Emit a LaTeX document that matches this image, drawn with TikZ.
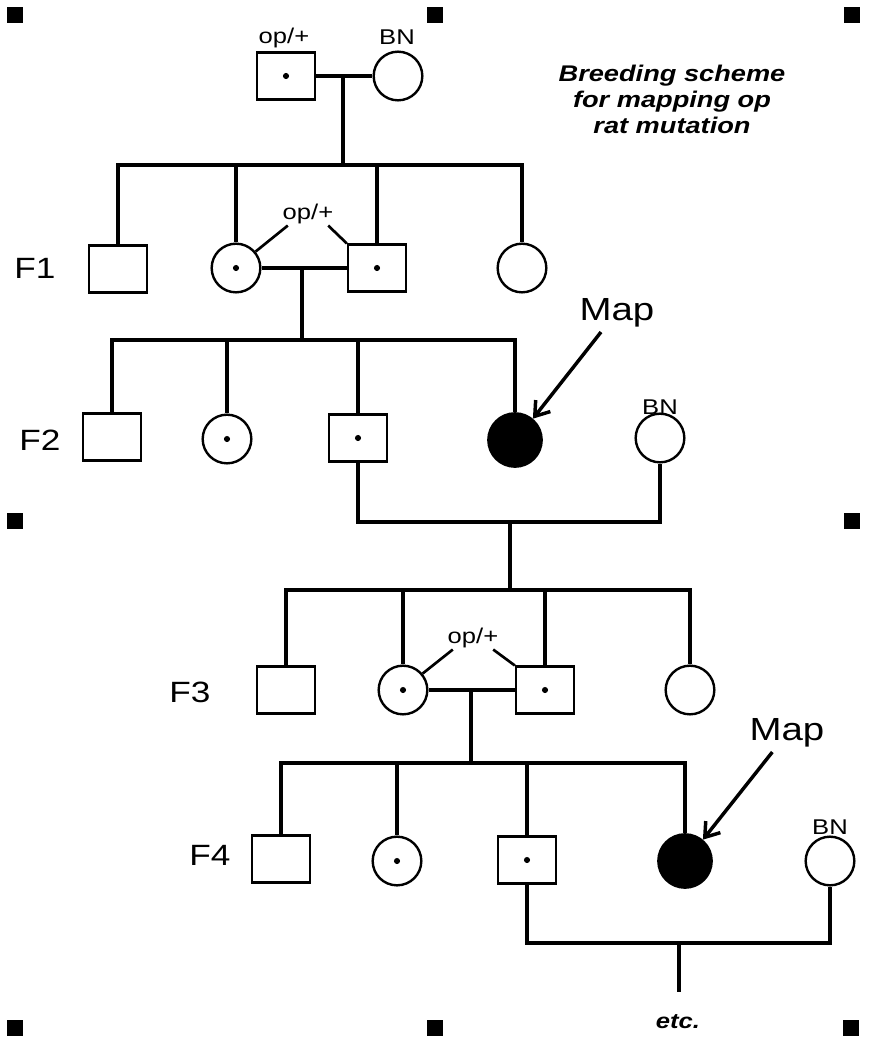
\documentclass[tikz,border=0pt]{standalone}
\usepackage{fontspec}
\newfontfamily\pedfont[FakeStretch=1.2]{Liberation Sans}
\usetikzlibrary{arrows.meta}

\begin{document}
\begin{tikzpicture}[x=0.75pt, y=-0.75pt,
    male/.style={draw, rectangle, line width=1.8pt, minimum width=43.5pt, minimum height=35pt, inner sep=0pt},
    female/.style={draw, circle, line width=1.8pt, minimum size=36.5pt, inner sep=0pt},
    carrier/.style={path picture={\fill (path picture bounding box.center) circle (2.3pt);}},
    affected/.style={fill=black, minimum size=40pt},
    gen/.style={font=\pedfont\fontsize{22}{24}\selectfont},
    geno/.style={font=\pedfont\fontsize{16}{18}\selectfont, inner sep=1pt},
    mapnote/.style={font=\pedfont\fontsize{24}{26}\selectfont},
    handle/.style={fill=black, minimum size=12pt, inner sep=0pt}]
\useasboundingbox (0,0) rectangle (869,1050);

%\draw[help lines] (0,0) grid (869,1050);
\begin{scope}
    % selection handles
    \node[handle] (h1) at (15,15) {};
    \node[handle] (h2) at (435,15) {};
    \node[handle] (h3) at (852,15) {};
    \node[handle] (h4) at (15,521) {};
    \node[handle] (h5) at (852,521) {};
    \node[handle] (h6) at (15,1028) {};
    \node[handle] (h7) at (435,1028) {};
    \node[handle] (h8) at (851,1028) {};

    \node[font=\pedfont\bfseries\itshape\fontsize{17}{19.5}\selectfont, align=center] (title) at (672,99)
        {Breeding scheme\\for mapping op\\rat mutation};

    % parents
    \node[male, carrier] (P) at (286,76) {};
    \node[female] (M) at (398,76) {};
    \node[geno] (gP) at (284,38) {op/+};
    \node[geno] (gM) at (397,37) {BN};

    % F1
    \node[gen] (F1) at (35,268) {F1};
    \node[male] (a1) at (118,269) {};
    \node[female, carrier] (b1) at (236,268) {};
    \node[male, carrier] (c1) at (377,268) {};
    \node[female] (d1) at (522,268) {};
    \node[geno] (g1) at (308,214) {op/+};

    % F2
    \node[gen] (F2) at (40,440) {F2};
    \node[male] (a2) at (112,437) {};
    \node[female, carrier] (b2) at (227,439) {};
    \node[male, carrier] (c2) at (358,438) {};
    \node[female, affected] (d2) at (515,440) {};
    \node[female] (e2) at (660,438) {};
    \node[geno] (g2) at (660,407) {BN};
    \node[mapnote] (map1) at (617,313) {Map};

    % F3
    \node[gen] (F3) at (190,692) {F3};
    \node[male] (a3) at (286,690) {};
    \node[female, carrier] (b3) at (403,690) {};
    \node[male, carrier] (c3) at (545,690) {};
    \node[female] (d3) at (690,690) {};
    \node[geno] (g3) at (473,638) {op/+};

    % F4
    \node[gen] (F4) at (210,855) {F4};
    \node[male] (a4) at (281,859) {};
    \node[female, carrier] (b4) at (397,861) {};
    \node[male, carrier] (c4) at (527,860) {};
    \node[female, affected] (d4) at (685,861) {};
    \node[female] (e4) at (830,861) {};
    \node[geno] (g4) at (830,827) {BN};
    \node[mapnote] (map2) at (787,733) {Map};

    \node[font=\pedfont\bfseries\itshape\fontsize{16}{19}\selectfont] (etc) at (678,1022) {etc.};

    % line junctions
    \coordinate (s0) at (343,165);
    \coordinate (s1) at (302,340);
    \coordinate (s2) at (510,590);
    \coordinate (s3) at (471,763);
    \coordinate (s4) at (679,992);
    \coordinate (k2) at (510,522);
    \coordinate (k4) at (679,943);
\end{scope}

\begin{scope}[line width=2.6pt, >={Straight Barb[length=10pt, width=14pt]}]
    % parents -> F1
    \path [-] (P) edge (M);
    \draw (s0 |- P) -- (s0);
    \draw (a1.north) |- (s0) -| (d1.north);
    \draw (b1) -- (b1 |- s0);
    \draw (c1) -- (c1 |- s0);

    % F1 -> F2
    \path [-] (b1) edge (c1);
    \draw (s1 |- b1) -- (s1);
    \draw (a2.north) |- (s1) -| (d2.north);
    \draw (b2) -- (b2 |- s1);
    \draw (c2) -- (c2 |- s1);

    % F2 x BN -> F3
    \draw (c2.south) |- (k2) -| (e2.south);
    \draw (k2) -- (s2);
    \draw (a3.north) |- (s2) -| (d3.north);
    \draw (b3) -- (b3 |- s2);
    \draw (c3) -- (c3 |- s2);

    % F3 -> F4
    \path [-] (b3) edge (c3);
    \draw (s3 |- b3) -- (s3);
    \draw (a4.north) |- (s3) -| (d4.north);
    \draw (b4) -- (b4 |- s3);
    \draw (c4) -- (c4 |- s3);

    % F4 x BN
    \draw (c4.south) |- (k4) -| (e4.south);
    \draw (k4) -- (s4);

    % genotype pointers
    \draw [line width=2pt] (b1.40) -- ([xshift=5pt]g1.south west);
    \draw [line width=2pt] ([xshift=-5pt]g1.south east) -- (c1.north west);
    \draw [line width=2pt] (b3.40) -- ([xshift=5pt]g3.south west);
    \draw [line width=2pt] ([xshift=-5pt]g3.south east) -- (c3.north west);

    % map arrows
    \draw [->] ([xshift=-12pt]map1.south) -- (d2.50);
    \draw [->] ([xshift=-11pt]map2.south) -- (d4.50);
\end{scope}
\end{tikzpicture}
\end{document}
